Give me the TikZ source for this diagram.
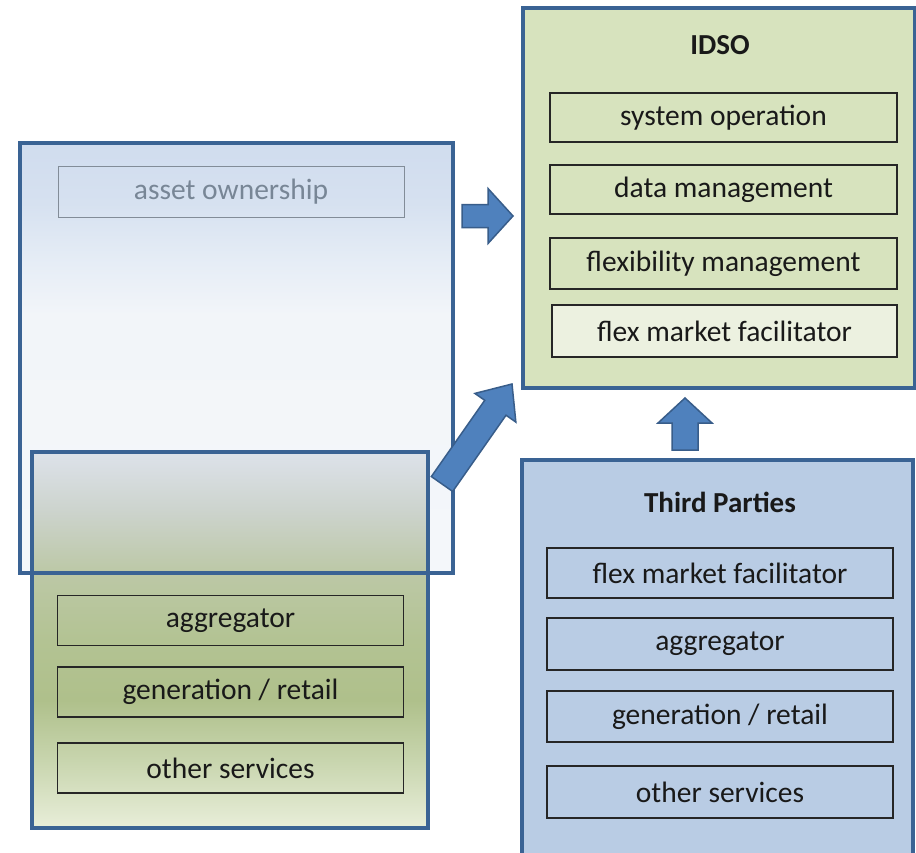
\documentclass[tikz,border=0pt]{standalone}
\usepackage{fontspec}
\setmainfont{Carlito}
\usetikzlibrary{calc}
\definecolor{bordblue}{RGB}{58,99,148}
\definecolor{idsofill}{RGB}{215,227,190}
\definecolor{idsolight}{RGB}{236,241,224}
\definecolor{tpfill}{RGB}{185,204,228}
\definecolor{arrfill}{RGB}{79,129,189}
\definecolor{arrdraw}{RGB}{56,93,138}
\definecolor{graytext}{RGB}{120,134,150}
\definecolor{grayline}{RGB}{130,140,152}
\definecolor{bsA}{HTML}{F4F7FA}
\definecolor{bsB}{HTML}{F2F5F9}
\definecolor{bsC}{HTML}{E6EDF6}
\definecolor{bsD}{HTML}{D6E1F0}
\definecolor{bsE}{HTML}{D0DCEE}
\definecolor{gsA}{HTML}{E8EED9}
\definecolor{gsB}{HTML}{C8D5AE}
\definecolor{gsC}{HTML}{AFC08B}
\definecolor{gsD}{HTML}{B3C393}
\definecolor{gsE}{HTML}{BCC8A6}
\definecolor{gsF}{HTML}{CCD3CC}
\definecolor{gsG}{HTML}{DDE2EA}
\pgfdeclareverticalshading{bluesh}{100bp}{color(0bp)=(bsA); color(25bp)=(bsA); color(55bp)=(bsB); color(61bp)=(bsC); color(68bp)=(bsD); color(75bp)=(bsE); color(100bp)=(bsE)}
\pgfdeclareverticalshading{greensh}{100bp}{color(0bp)=(gsA); color(25bp)=(gsA); color(34bp)=(gsB); color(42bp)=(gsC); color(50bp)=(gsD); color(59bp)=(gsE); color(67bp)=(gsF); color(75bp)=(gsG); color(100bp)=(gsG)}
\newcommand{\blkarrow}[5]{%
  \coordinate (ba-b) at ($(#2)!#5!(#1)$);
  \filldraw[arrowsty] ($(#1)!#3!90:(#2)$) -- ($(ba-b)!#3!90:(#2)$) -- ($(ba-b)!#4!90:(#2)$) -- (#2) -- ($(ba-b)!#4!-90:(#2)$) -- ($(ba-b)!#3!-90:(#2)$) -- ($(#1)!#3!-90:(#2)$) -- cycle;}
\tikzset{
  txt/.style={font=\fontsize{29.5}{34}\selectfont, text=black!90},
  ttl/.style={font=\fontsize{29}{34}\selectfont\bfseries, text=black!90},
  bigborder/.style={draw=bordblue, line width=4.5pt},
  item/.style={txt, draw=black!85, line width=1.3pt, minimum width=346pt, minimum height=50pt, inner sep=0pt},
  arrowsty/.style={fill=arrfill, draw=arrdraw, line width=1.5pt, line join=miter},
  plain/.style={inner sep=0pt, outer sep=0pt, anchor=north west}
}
\begin{document}
\begin{tikzpicture}[x=1pt,y=-1pt]
\useasboundingbox (0,0) rectangle (916,852);
\fill[white] (0,0) rectangle (916,852);
% left container boxes
\node[plain, shading=bluesh, minimum width=433pt, minimum height=430pt] (own) at (20,143) {};
\node[plain, shading=greensh, minimum width=396pt, minimum height=376pt] (dso) at (32,452) {};
\draw[bigborder] (own.north west) rectangle (own.south east);
\draw[bigborder] (dso.north west) rectangle (dso.south east);
\node[txt, text=graytext, draw=grayline, line width=1pt, minimum width=346pt, minimum height=51pt, inner sep=0pt] (asset) at (231,191.5) {asset ownership};
\node[item] (lagg) at (230.5,620.5) {aggregator};
\node[item] (lgen) at (230.5,692) {generation / retail};
\node[item] (loth) at (230.5,768) {other services};
% IDSO
\node[plain, bigborder, fill=idsofill, minimum width=392pt, minimum height=380pt] (idso) at (523,8) {};
\node[ttl] (idsot) at (720,45) {IDSO};
\node[item, fill=idsofill, minimum width=347pt, minimum height=49pt] (sysop) at (723.5,117.5) {system operation};
\node[item, fill=idsofill, minimum width=347pt, minimum height=49pt] (datam) at (723.5,189.5) {data management};
\node[item, fill=idsofill, minimum width=347pt, minimum height=51pt] (flexm) at (723.5,263.5) {flexibility management};
\node[item, fill=idsolight, minimum width=345pt, minimum height=52pt] (flexf) at (724.5,331) {flex market facilitator};
% Third parties
\node[plain, bigborder, fill=tpfill, minimum width=391pt, minimum height=400pt] (tp) at (522,460) {};
\node[ttl] (tpt) at (720,502) {Third Parties};
\node[item, fill=tpfill] (tflex) at (720,573) {flex market facilitator};
\node[item, fill=tpfill, minimum height=52pt] (tagg) at (720,644) {aggregator};
\node[item, fill=tpfill, minimum height=51pt] (tgen) at (720,716.5) {generation / retail};
\node[item, fill=tpfill, minimum height=52pt] (toth) at (720,792) {other services};
% block arrows
\coordinate (r1) at (462,216); \coordinate (r2) at (513,216);
\blkarrow{r1}{r2}{11.5pt}{27.5pt}{25pt}
\coordinate (d1) at (442,484); \coordinate (d2) at (512,384);
\blkarrow{d1}{d2}{13pt}{25pt}{29pt}
\coordinate (u1) at (685,450); \coordinate (u2) at (685,398);
\blkarrow{u1}{u2}{13pt}{27pt}{25pt}
\end{tikzpicture}
\end{document}
